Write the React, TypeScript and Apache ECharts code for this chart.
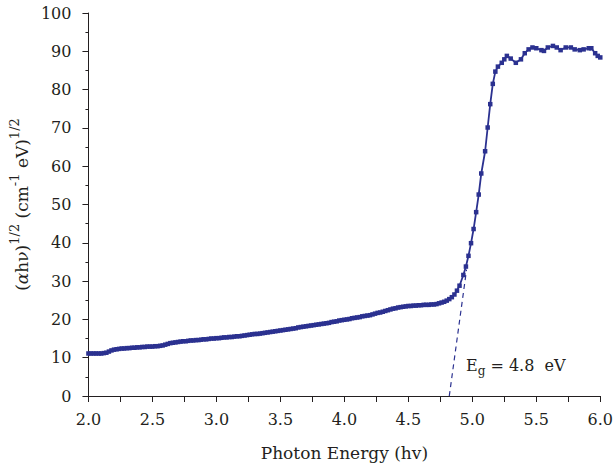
import React, { useEffect, useRef } from "react";
import * as echarts from "echarts";

const xTicks = [2.0, 2.5, 3.0, 3.5, 4.0, 4.5, 5.0, 5.5, 6.0];
const yTicks = [0, 10, 20, 30, 40, 50, 60, 70, 80, 90, 100];

// Measured spectrum: [photon energy (eV), (αhν)^1/2]
const spectrum: [number, number][] = [
  [2.00, 11.1], [2.02, 11.1], [2.04, 11.1], [2.06, 11.1], [2.08, 11.1], [2.10, 11.1],
  [2.12, 11.2], [2.14, 11.3], [2.16, 11.6], [2.18, 11.9], [2.20, 12.1], [2.22, 12.2],
  [2.24, 12.3], [2.26, 12.4], [2.28, 12.4], [2.30, 12.5], [2.32, 12.5], [2.34, 12.6],
  [2.36, 12.6], [2.38, 12.7], [2.40, 12.7], [2.42, 12.8], [2.44, 12.8], [2.46, 12.9],
  [2.48, 12.9], [2.50, 12.9], [2.52, 13.0], [2.54, 13.0], [2.56, 13.1], [2.58, 13.2],
  [2.60, 13.4], [2.62, 13.6], [2.64, 13.8], [2.66, 13.9], [2.68, 14.0], [2.70, 14.1],
  [2.72, 14.2], [2.74, 14.3], [2.76, 14.3], [2.78, 14.4], [2.80, 14.5], [2.82, 14.5],
  [2.84, 14.6], [2.86, 14.6], [2.88, 14.7], [2.90, 14.8], [2.92, 14.8], [2.94, 14.9],
  [2.96, 15.0], [2.98, 15.0], [3.00, 15.1], [3.02, 15.1], [3.04, 15.2], [3.06, 15.3],
  [3.08, 15.3], [3.10, 15.4], [3.12, 15.4], [3.14, 15.5], [3.16, 15.6], [3.18, 15.6],
  [3.20, 15.7], [3.22, 15.8], [3.24, 15.9], [3.26, 16.0], [3.28, 16.1], [3.30, 16.2],
  [3.32, 16.2], [3.34, 16.3], [3.36, 16.4], [3.38, 16.5], [3.40, 16.6], [3.42, 16.7],
  [3.44, 16.8], [3.46, 16.9], [3.48, 17.0], [3.50, 17.1], [3.52, 17.2], [3.54, 17.3],
  [3.56, 17.4], [3.58, 17.5], [3.60, 17.6], [3.62, 17.7], [3.64, 17.9], [3.66, 18.0],
  [3.68, 18.1], [3.70, 18.2], [3.72, 18.3], [3.74, 18.4], [3.76, 18.5], [3.78, 18.6],
  [3.80, 18.7], [3.82, 18.8], [3.84, 18.9], [3.86, 19.0], [3.88, 19.1], [3.90, 19.3],
  [3.92, 19.4], [3.94, 19.5], [3.96, 19.7], [3.98, 19.8], [4.00, 19.9], [4.02, 20.0],
  [4.04, 20.1], [4.06, 20.3], [4.08, 20.4], [4.10, 20.5], [4.12, 20.6], [4.14, 20.8],
  [4.16, 20.9], [4.18, 21.0], [4.20, 21.1], [4.22, 21.3], [4.24, 21.5], [4.26, 21.7],
  [4.28, 21.8], [4.30, 22.0], [4.32, 22.2], [4.34, 22.4], [4.36, 22.6], [4.38, 22.8],
  [4.40, 22.9], [4.42, 23.1], [4.44, 23.2], [4.46, 23.3], [4.48, 23.4], [4.50, 23.5],
  [4.52, 23.5], [4.54, 23.6], [4.56, 23.6], [4.58, 23.7], [4.60, 23.7], [4.62, 23.8],
  [4.64, 23.8], [4.66, 23.8], [4.68, 23.9], [4.70, 23.9], [4.72, 24.0], [4.74, 24.2],
  [4.76, 24.4], [4.78, 24.6], [4.80, 24.9], [4.82, 25.3], [4.84, 25.8], [4.86, 26.5],
  [4.88, 27.5], [4.90, 28.8], [4.93, 31.6], [4.95, 33.8], [4.97, 36.6], [4.99, 39.9],
  [5.01, 43.6], [5.03, 48.0], [5.05, 52.6], [5.07, 58.1], [5.10, 63.9], [5.12, 70.1],
  [5.14, 76.2], [5.16, 81.5], [5.18, 84.7], [5.20, 86.0], [5.23, 87.0], [5.25, 87.9],
  [5.27, 88.8], [5.30, 88.1], [5.34, 87.0], [5.38, 87.9], [5.41, 89.5], [5.44, 90.5],
  [5.47, 91.0], [5.50, 90.8], [5.54, 90.3], [5.56, 90.1], [5.59, 91.0], [5.63, 91.4],
  [5.66, 91.0], [5.69, 90.3], [5.73, 91.0], [5.77, 91.0], [5.80, 90.5], [5.84, 90.3],
  [5.87, 90.5], [5.91, 90.8], [5.93, 90.8], [5.96, 89.5], [5.98, 88.8], [6.00, 88.4],
];

// Tangent extrapolation to the energy axis (band gap)
const tangentLine: [number, number][] = [
  [4.82, 0],
  [4.955, 33],
];

const FONT = "'DejaVu Serif', 'Liberation Serif', serif";
const BLUE = "#2b3190";
const INK = "#231f20";

export default function App() {
  const ref = useRef<HTMLDivElement>(null);

  useEffect(() => {
    if (!ref.current) return;
    const chart = echarts.init(ref.current, undefined, { renderer: "svg" });
    chart.setOption({
      animation: false,
      backgroundColor: "#ffffff",
      textStyle: { fontFamily: FONT },
      grid: { left: 82, right: 14, top: 13, bottom: 72 },
      xAxis: {
        type: "value",
        min: xTicks[0],
        max: xTicks[xTicks.length - 1],
        interval: 0.5,
        name: "Photon Energy (hv)",
        nameLocation: "middle",
        nameGap: 48,
        nameTextStyle: { fontFamily: FONT, fontSize: 17, color: INK },
        axisLine: { show: true, lineStyle: { color: INK, width: 1 } },
        axisTick: { show: true, length: 6, lineStyle: { color: INK } },
        minorTick: { show: true, splitNumber: 2, length: 6, lineStyle: { color: INK } },
        axisLabel: {
          margin: 15,
          fontFamily: FONT,
          fontSize: 16,
          color: INK,
          formatter: (v: number) => v.toFixed(1),
        },
        splitLine: { show: false },
      },
      yAxis: {
        type: "value",
        min: yTicks[0],
        max: yTicks[yTicks.length - 1],
        interval: 10,
        name: "{p|(}{a|α}{p|hν)}{s|1/2}{p| (cm}{s|-1}{p| eV)}{s|1/2}",
        nameLocation: "middle",
        nameGap: 58,
        nameRotate: 90,
        nameTextStyle: {
          fontFamily: FONT,
          color: INK,
          rich: {
            p: { fontFamily: FONT, fontSize: 17, lineHeight: 22, verticalAlign: "bottom", color: INK },
            a: { fontFamily: FONT, fontSize: 17, fontStyle: "italic", lineHeight: 22, verticalAlign: "bottom", color: INK },
            s: { fontFamily: FONT, fontSize: 13, lineHeight: 13, verticalAlign: "top", color: INK },
          },
        },
        axisLine: { show: true, lineStyle: { color: INK, width: 1 } },
        axisTick: { show: true, length: 6, lineStyle: { color: INK } },
        minorTick: { show: true, splitNumber: 2, length: 3, lineStyle: { color: INK } },
        axisLabel: { margin: 17, fontFamily: FONT, fontSize: 16, color: INK },
        splitLine: { show: false },
      },
      series: [
        {
          type: "line",
          data: tangentLine,
          symbol: "none",
          lineStyle: { color: BLUE, width: 1.2, type: [5, 4] },
          z: 1,
        },
        {
          type: "line",
          data: spectrum,
          symbol: "rect",
          symbolSize: 4.5,
          itemStyle: { color: BLUE },
          lineStyle: { color: BLUE, width: 1.8 },
          z: 2,
        },
      ],
      graphic: [
        {
          type: "text",
          left: 466,
          top: 357,
          style: {
            text: "{e|E}{g|g}{e| = 4.8  eV}",
            rich: {
              e: { fontFamily: FONT, fontSize: 16, lineHeight: 20, verticalAlign: "top", fill: INK },
              g: { fontFamily: FONT, fontSize: 12, lineHeight: 12, verticalAlign: "bottom", fill: INK },
            },
          },
        },
      ],
    });
    return () => chart.dispose();
  }, []);

  return (
    <div
      ref={ref}
      style={{ position: "absolute", left: 0, top: 0, width: 616, height: 468 }}
    />
  );
}
